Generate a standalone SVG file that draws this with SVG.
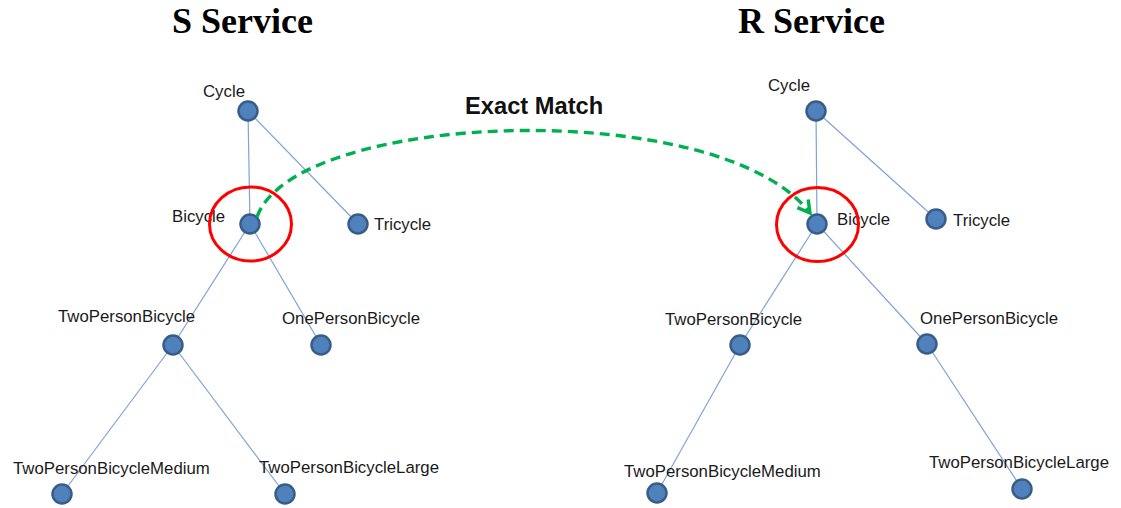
<svg xmlns="http://www.w3.org/2000/svg" width="1121" height="508" viewBox="0 0 1121 508">
  <defs>
    <style>
      .title { font-family: "Liberation Serif", "Times New Roman", serif; font-weight: bold; font-size: 36px; fill: #000; }
      .lbl { font-family: "Liberation Sans", Arial, sans-serif; font-size: 16.8px; fill: #1a1a1a; }
      .match { font-family: "Liberation Sans", Arial, sans-serif; font-weight: bold; font-size: 23.7px; fill: #111; }
      .node { fill: #4F81BD; stroke: #385D8A; stroke-width: 2.5; }
      .edge { stroke: #7FA3D4; stroke-width: 1.2; fill: none; }
      .ring { fill: none; stroke: #FF0000; stroke-width: 3; }
      .link { fill: none; stroke: #00B050; stroke-width: 3.4; stroke-dasharray: 10 6; }
    </style>
    <marker id="arrow" viewBox="0 0 10 10" refX="8" refY="5" markerWidth="5" markerHeight="5" orient="auto" markerUnits="strokeWidth">
      <path d="M1,1 L8,5 L1,9" fill="none" stroke="#00B050" stroke-width="2" stroke-linejoin="miter"/>
    </marker>
  </defs>

  <rect width="1121" height="508" fill="#ffffff"/>

  <text class="title" x="172" y="33">S Service</text>
  <text class="title" x="738" y="33">R Service</text>

  <!-- tree edges -->
  <g id="connectors">
    <line class="edge" x1="248" y1="111" x2="250" y2="224"/>
    <line class="edge" x1="248" y1="111" x2="358" y2="224"/>
    <line class="edge" x1="250" y1="224" x2="173" y2="345"/>
    <line class="edge" x1="250" y1="224" x2="321" y2="345"/>
    <line class="edge" x1="173" y1="345" x2="62" y2="494"/>
    <line class="edge" x1="173" y1="345" x2="285" y2="494"/>

    <line class="edge" x1="816" y1="111" x2="817" y2="224"/>
    <line class="edge" x1="816" y1="111" x2="936" y2="219"/>
    <line class="edge" x1="817" y1="224" x2="740" y2="345"/>
    <line class="edge" x1="817" y1="224" x2="927" y2="344"/>
    <line class="edge" x1="740" y1="345" x2="657" y2="493"/>
    <line class="edge" x1="927" y1="344" x2="1022" y2="489"/>
  </g>

  <!-- S Service nodes -->
  <g id="s-cycle"><circle class="node" cx="248" cy="111" r="9.5"/><text class="lbl" x="203" y="97">Cycle</text></g>
  <g id="s-bicycle"><circle class="node" cx="250" cy="224" r="9.5"/><text class="lbl" x="172" y="222">Bicycle</text></g>
  <g id="s-tricycle"><circle class="node" cx="358" cy="224" r="9.5"/><text class="lbl" x="374" y="230">Tricycle</text></g>
  <g id="s-twoperson"><circle class="node" cx="173" cy="345" r="9.5"/><text class="lbl" x="58" y="322">TwoPersonBicycle</text></g>
  <g id="s-oneperson"><circle class="node" cx="321" cy="345" r="9.5"/><text class="lbl" x="282" y="324">OnePersonBicycle</text></g>
  <g id="s-medium"><circle class="node" cx="62" cy="494" r="9.5"/><text class="lbl" x="13" y="474">TwoPersonBicycleMedium</text></g>
  <g id="s-large"><circle class="node" cx="285" cy="494" r="9.5"/><text class="lbl" x="259" y="473">TwoPersonBicycleLarge</text></g>

  <!-- R Service nodes -->
  <g id="r-cycle"><circle class="node" cx="816" cy="111" r="9.5"/><text class="lbl" x="768" y="91">Cycle</text></g>
  <g id="r-bicycle"><circle class="node" cx="817" cy="224" r="9.5"/><text class="lbl" x="837" y="225">Bicycle</text></g>
  <g id="r-tricycle"><circle class="node" cx="936" cy="219" r="9.5"/><text class="lbl" x="953" y="226">Tricycle</text></g>
  <g id="r-twoperson"><circle class="node" cx="740" cy="345" r="9.5"/><text class="lbl" x="665" y="325">TwoPersonBicycle</text></g>
  <g id="r-oneperson"><circle class="node" cx="927" cy="344" r="9.5"/><text class="lbl" x="920" y="324">OnePersonBicycle</text></g>
  <g id="r-medium"><circle class="node" cx="657" cy="493" r="9.5"/><text class="lbl" x="624" y="477">TwoPersonBicycleMedium</text></g>
  <g id="r-large"><circle class="node" cx="1022" cy="489" r="9.5"/><text class="lbl" x="929" y="468">TwoPersonBicycleLarge</text></g>

  <!-- highlight rings -->
  <g id="rings">
    <ellipse class="ring" cx="250.5" cy="224" rx="41" ry="37"/>
    <ellipse class="ring" cx="817.5" cy="224.5" rx="41" ry="37"/>
  </g>

  <!-- match link -->
  <g id="match-link">
    <path class="link" d="M257,217 C295,110 720,95 810,213" marker-end="url(#arrow)"/>
    <text class="match" x="465" y="114">Exact Match</text>
  </g>
</svg>
